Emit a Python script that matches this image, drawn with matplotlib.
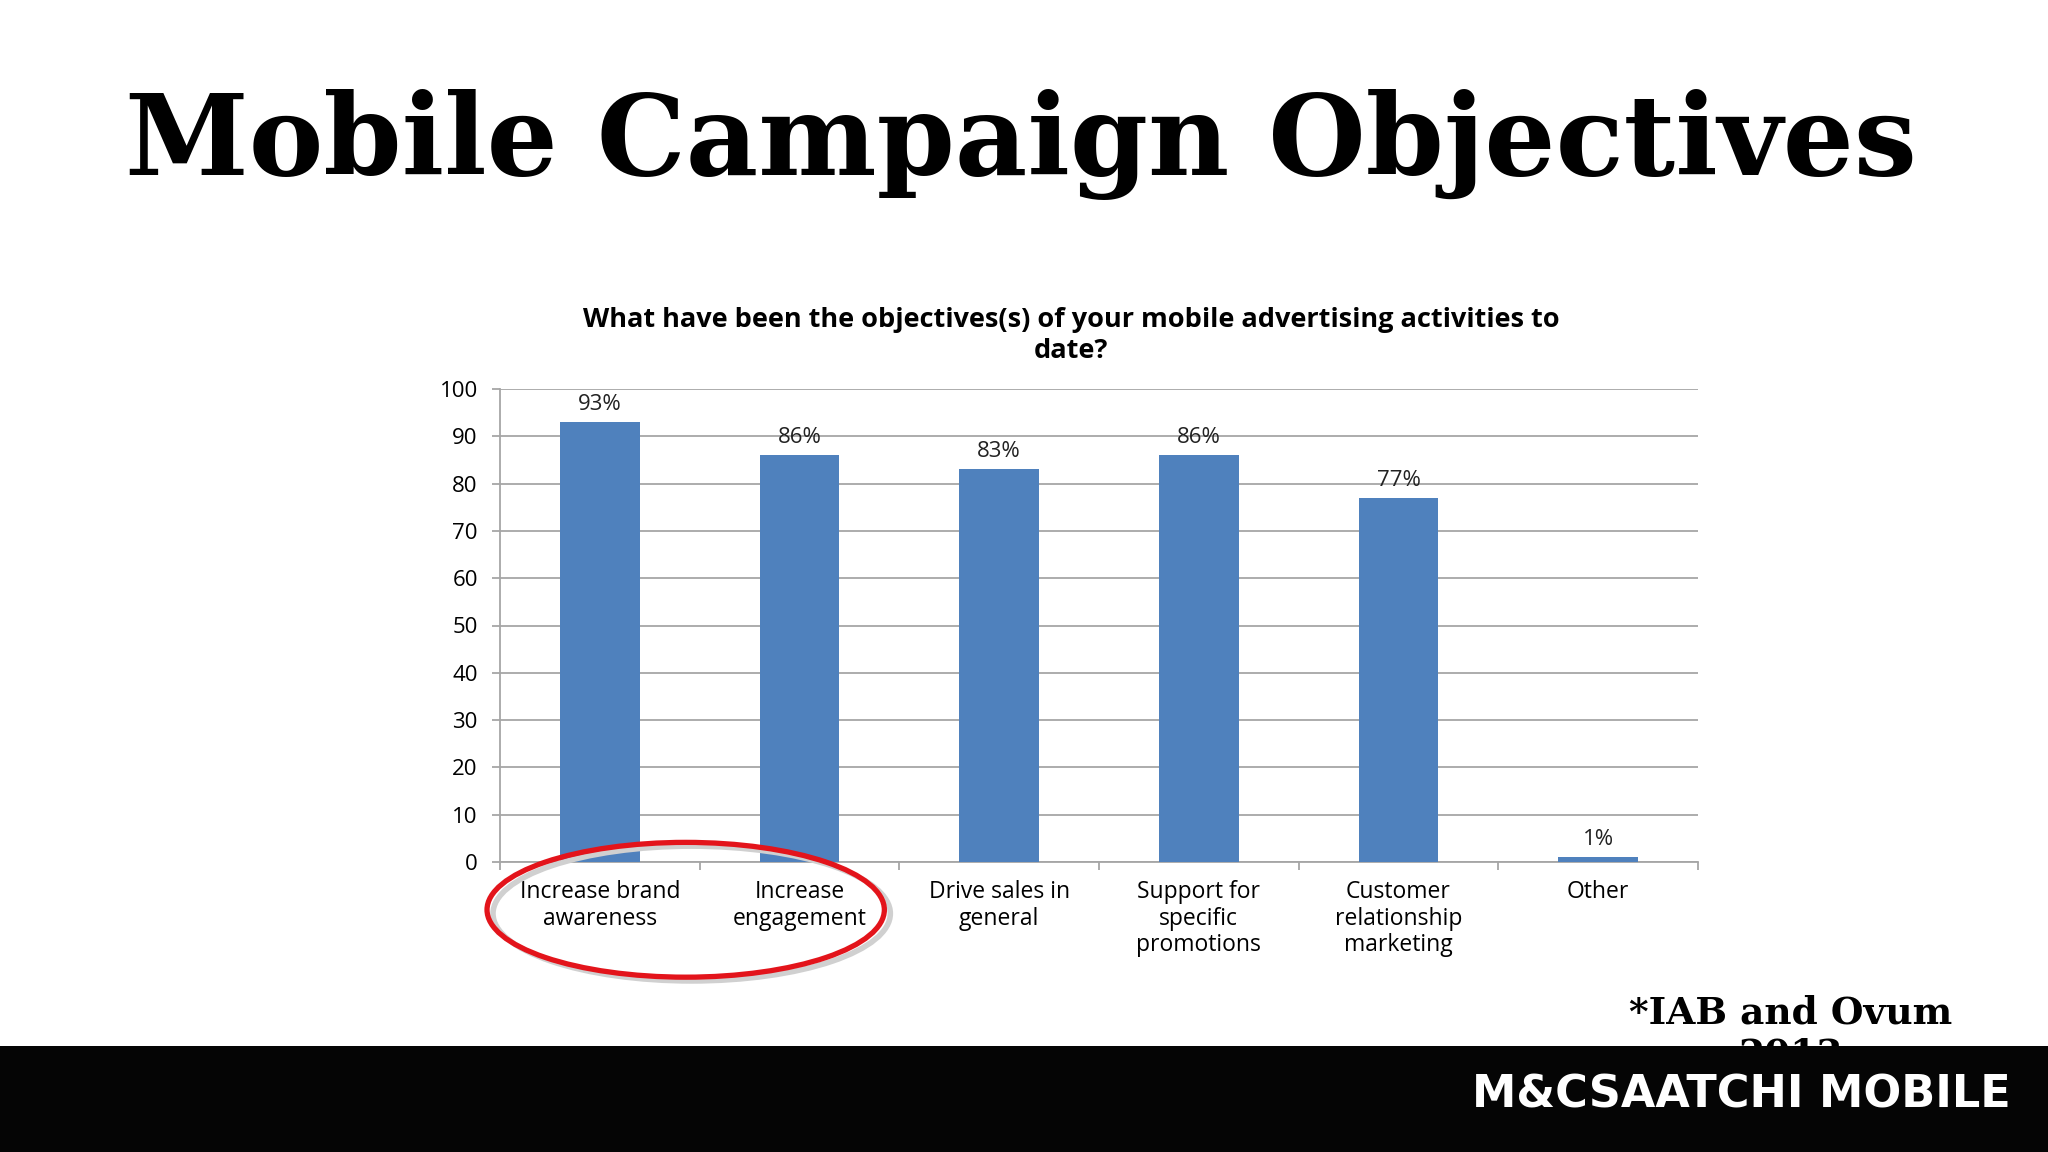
import matplotlib.pyplot as plt
from matplotlib import font_manager
from matplotlib.patches import Ellipse, Rectangle

# Survey data (IAB and Ovum 2013)
categories = [
    "Increase brand\nawareness",
    "Increase\nengagement",
    "Drive sales in\ngeneral",
    "Support for\nspecific\npromotions",
    "Customer\nrelationship\nmarketing",
    "Other",
]
values = [93, 86, 83, 86, 77, 1]
y_ticks = [0, 10, 20, 30, 40, 50, 60, 70, 80, 90, 100]

bar_color = "#4F81BD"
grid_color = "#A6A6A6"
chart_font = "Open Sans"

# pick a narrow font for the logo if one is installed
installed = {f.name for f in font_manager.fontManager.ttflist}
logo_font, logo_size = "DejaVu Sans", 32
for name, size in [("Liberation Sans Narrow", 44), ("DejaVu Sans Condensed", 38)]:
    if name in installed:
        logo_font, logo_size = name, size
        break

fig = plt.figure(figsize=(20.48, 11.52), dpi=100)
fig.patch.set_facecolor("white")

# Big slide title
fig.text(0.4985, 1 - 144 / 1152, "Mobile Campaign Objectives", ha="center", va="center",
         fontsize=80.5, fontweight="bold", family="DejaVu Serif", color="black")

# Chart area
ax = fig.add_axes([500 / 2048, 1 - 862 / 1152, 1198 / 2048, 473 / 1152])
x = list(range(len(categories)))
ax.bar(x, values, width=0.4, color=bar_color, zorder=3)

for xi, v in zip(x, values):
    ax.annotate(f"{v}%", (xi, v), xytext=(0, 5), textcoords="offset points",
                ha="center", va="bottom", fontsize=16, family=chart_font,
                color="#222222")

ax.set_xlim(-0.5, len(categories) - 0.5)
ax.set_ylim(0, 100)
ax.set_yticks(y_ticks)
ax.set_yticklabels([str(t) for t in y_ticks], fontsize=16, family=chart_font)
ax.yaxis.grid(True, color=grid_color, linewidth=1.3, zorder=0)
ax.set_axisbelow(True)

# category boundaries as major ticks, labels on minor ticks
ax.set_xticks([i - 0.5 for i in range(len(categories) + 1)])
ax.set_xticklabels([])
ax.set_xticks(x, minor=True)
ax.set_xticklabels(categories, minor=True, fontsize=16.5, family=chart_font,
                   linespacing=1.15, va="top")
ax.tick_params(axis="x", which="major", length=6, color=grid_color, width=1.3)
ax.tick_params(axis="x", which="minor", length=0, pad=13)
ax.tick_params(axis="y", length=6, color=grid_color, width=1.3, pad=10)

for side in ["top", "right"]:
    ax.spines[side].set_visible(False)
for side in ["left", "bottom"]:
    ax.spines[side].set_color(grid_color)
    ax.spines[side].set_linewidth(1.3)

ax.set_title("What have been the objectives(s) of your mobile advertising activities to\ndate?",
             fontsize=19.5, fontweight="bold", family=chart_font, pad=22,
             linespacing=1.25, x=0.4766)

# highlight ellipse around the first two categories
shadow = Ellipse((0.46, -10.9), 1.99, 28.5, fill=False, edgecolor="#D0D0D0",
                 linewidth=4, clip_on=False, zorder=4)
ring = Ellipse((0.43, -10.1), 1.99, 28.5, fill=False, edgecolor="#E3141B",
               linewidth=3.8, clip_on=False, zorder=5)
ax.add_patch(shadow)
ax.add_patch(ring)

# source note, partly hidden behind footer band
fig.text(0.8745, 1 - 994 / 1152, "*IAB and Ovum\n2013", ha="center", va="top",
         fontsize=27, fontweight="bold", family="DejaVu Serif", linespacing=1.2,
         zorder=1)

# footer band
fig.add_artist(Rectangle((0, 0), 1, 106 / 1152, transform=fig.transFigure,
                         facecolor="#050505", edgecolor="none", zorder=10))
fig.text(0.8505, 1 - 1095 / 1152, "M&CSAATCHI MOBILE", ha="center", va="center",
         fontsize=logo_size, fontweight="bold", family=logo_font, color="white",
         zorder=11)

fig.savefig("out.png", dpi=100, facecolor="white")
